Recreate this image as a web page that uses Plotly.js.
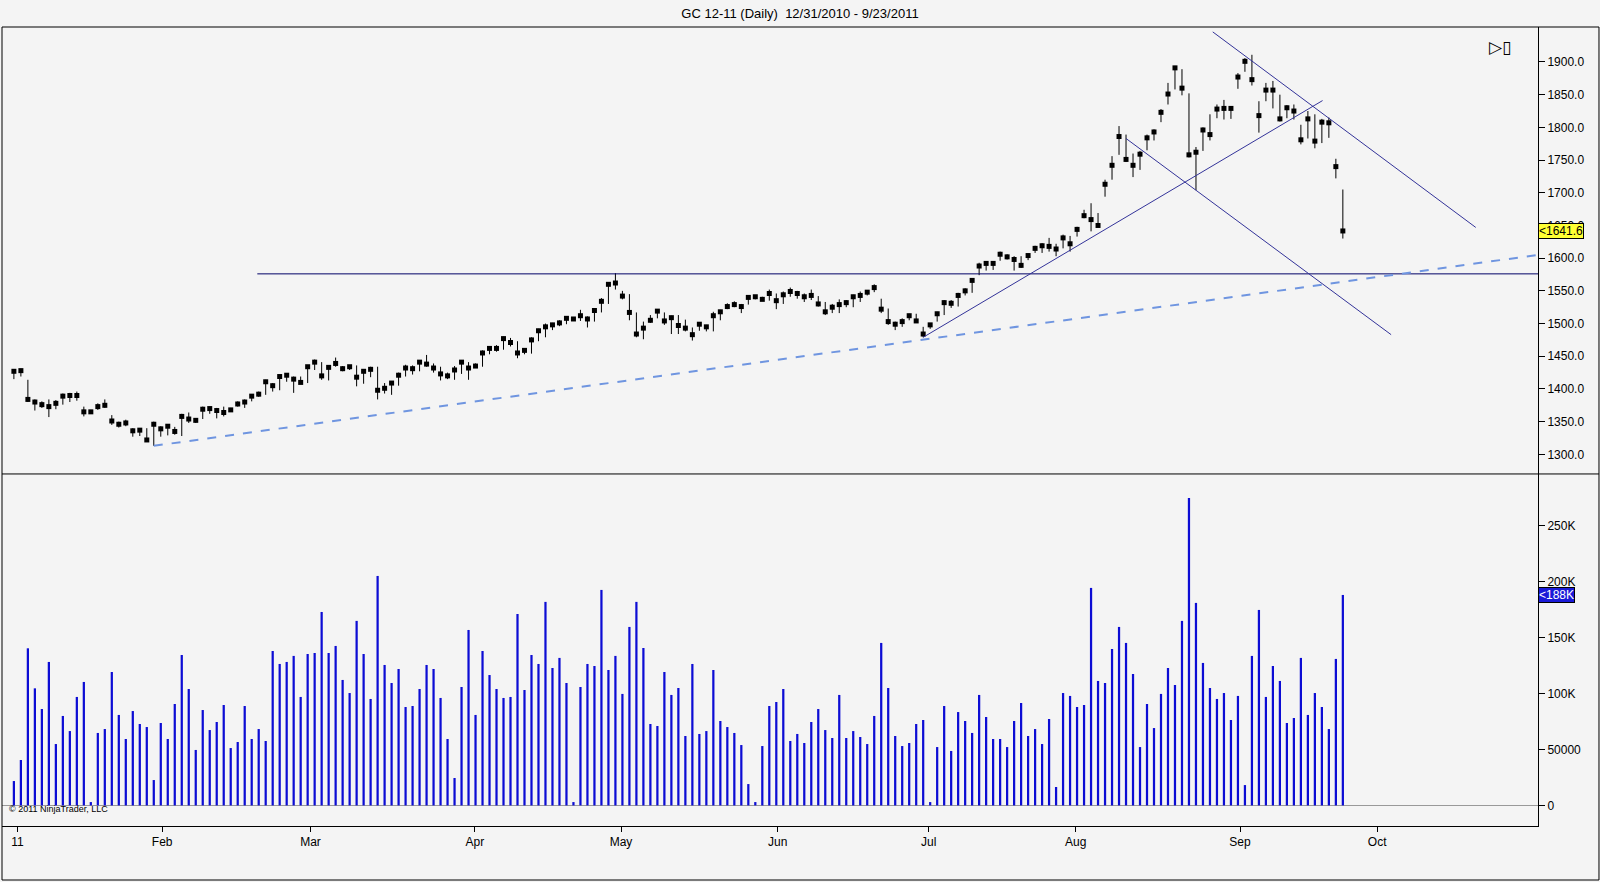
<!DOCTYPE html>
<html>
<head>
<meta charset="utf-8">
<script src="https://cdn.plot.ly/plotly-3.0.1.min.js"></script>
<style>
  html, body { margin: 0; padding: 0; background: #f4f4f4; }
  #chart { width: 1600px; height: 882px; }
</style>
</head>
<body>
<div id="chart"></div>
<script>
// GC 12-11 daily bars, 12/31/2010 - 9/23/2011
const closes = [1427,1428,1384,1380,1376,1373,1378,1389,1390,1390,1365,1365,1373,1375,1351,1346,1348,1336,1337,1322,
  1346,1339,1343,1335,1358,1354,1352,1369,1370,1367,1364,1368,1377,1380,1389,1392,1411,1405,1419,1421,
  1415,1410,1434,1441,1420,1433,1439,1431,1434,1418,1427,1430,1398,1401,1409,1421,1432,1431,1441,1438,
  1432,1423,1420,1429,1441,1432,1435,1455,1462,1462,1477,1471,1455,1459,1475,1489,1495,1498,1501,1508,
  1507,1512,1507,1520,1534,1560,1562,1542,1517,1484,1493,1505,1519,1504,1509,1497,1493,1483,1499,1495,
  1512,1518,1526,1529,1526,1540,1541,1537,1546,1535,1544,1549,1546,1541,1543,1530,1518,1525,1529,1532,
  1541,1543,1548,1555,1522,1503,1499,1503,1512,1504,1484,1498,1515,1532,1531,1543,1550,1566,1588,1592,
  1592,1606,1602,1598,1589,1604,1615,1619,1618,1614,1631,1622,1644,1665,1659,1650,1713,1742,1786,1751,
  1742,1759,1784,1793,1823,1851,1891,1860,1758,1762,1796,1789,1828,1829,1829,1877,1901,1873,1818,1857,
  1857,1813,1830,1825,1781,1813,1779,1808,1807,1740,1641.6];
const highs = [1429,1431,1414,1384,1381,1384,1383,1393,1394,1396,1373,1368,1378,1384,1360,1350,1353,1340,1340,1340,
  1350,1343,1346,1342,1362,1364,1355,1373,1373,1371,1373,1371,1381,1384,1392,1396,1414,1409,1422,1423,
  1419,1419,1436,1445,1441,1436,1448,1435,1436,1436,1429,1434,1434,1409,1411,1425,1437,1436,1444,1452,
  1439,1434,1425,1435,1444,1441,1439,1459,1465,1467,1480,1478,1473,1462,1479,1492,1500,1501,1505,1511,
  1510,1521,1511,1522,1539,1563,1577,1550,1545,1517,1503,1513,1522,1517,1512,1513,1506,1494,1501,1498,
  1518,1521,1531,1534,1530,1543,1543,1541,1552,1546,1549,1555,1550,1546,1552,1542,1533,1530,1537,1536,
  1544,1549,1551,1560,1538,1523,1503,1508,1515,1515,1495,1500,1518,1536,1536,1547,1554,1569,1593,1594,
  1594,1610,1606,1603,1603,1607,1619,1623,1631,1622,1636,1634,1648,1674,1684,1669,1720,1756,1802,1789,
  1760,1764,1789,1797,1828,1868,1894,1889,1852,1770,1800,1820,1835,1842,1832,1883,1906,1911,1840,1868,
  1871,1850,1834,1835,1804,1825,1820,1813,1815,1752,1705];
const lows = [1415,1419,1380,1367,1371,1357,1369,1376,1380,1382,1358,1362,1368,1371,1345,1341,1343,1327,1328,1320,
  1313,1327,1329,1330,1328,1348,1348,1354,1362,1355,1358,1365,1373,1371,1381,1388,1391,1396,1398,1411,
  1394,1410,1409,1429,1414,1413,1434,1427,1429,1404,1408,1418,1384,1393,1391,1405,1419,1422,1427,1434,
  1425,1413,1415,1414,1423,1414,1432,1434,1453,1457,1460,1465,1447,1453,1454,1473,1479,1490,1496,1499,
  1504,1504,1494,1503,1517,1530,1552,1537,1505,1479,1476,1501,1508,1498,1484,1484,1488,1474,1489,1488,
  1488,1505,1522,1525,1516,1529,1537,1535,1535,1522,1530,1541,1538,1533,1536,1526,1513,1516,1516,1525,
  1525,1533,1543,1548,1516,1498,1490,1495,1505,1501,1479,1492,1503,1513,1524,1526,1543,1547,1574,1581,
  1582,1596,1598,1581,1585,1597,1608,1608,1610,1603,1615,1610,1633,1661,1641,1648,1694,1720,1758,1747,
  1724,1735,1765,1780,1808,1835,1858,1849,1754,1704,1764,1780,1814,1812,1813,1859,1885,1864,1792,1840,
  1829,1809,1814,1812,1774,1783,1768,1776,1784,1722,1630];
const volumes = [21.8,40.6,140.5,104.7,86.2,128.3,54.9,80,66.5,97,110.4,3,64.8,68.3,119.3,80.9,59.4,84.4,72.8,70.1,
  22.7,73.7,59.4,90.7,134.5,104.1,49.6,85.3,67.4,74.6,89.8,51.3,56.7,88.9,59.4,68.3,57.6,138.1,126.5,128.3,
  133.7,97,135.4,136.3,173,136.3,142.6,112.2,100.5,165,135.4,95.2,205.2,125.6,109.5,122,88,88.9,104.1,125.6,
  122,96.1,59.4,24.5,105.9,156.9,80.9,138.1,116.6,104.1,96.1,97,171.2,103.2,134.5,126.5,182,122.9,131.9,109.5,
  3,105.9,126.5,124.7,192.7,121.1,133.7,99.7,159.6,182,140.8,72.8,71,119.3,98.8,105,62.1,126.5,63.9,66.5,
  121.1,75.5,70.1,64.8,54,19.1,3,53.1,88.9,92.5,104.1,57.6,63.9,55.8,74.6,86.2,67.4,60.3,98.8,60.3,
  66.5,61.2,54.9,80,145.3,105,62.1,53.1,55.8,72.8,76.4,3,52.2,88.9,48.7,83.5,75.5,64.8,98.8,79.1,
  59.4,59.4,52.2,75.5,91.6,62.1,68.3,54.9,77.3,16.5,100.5,97.9,88,89.8,194.5,111.3,109.5,139.9,159.6,145.3,
  117.5,52.2,90.7,69.2,99.7,122.9,107.7,165,275,181.1,127.4,105,95.2,100.5,76.4,97.9,18.2,133.7,174.8,97,
  124.7,111.3,73.7,78.2,131.9,80.9,100.5,88,68.3,131,188.2].map(v => v * 1000);

const monthTicks = [1.5, 22.2, 43.4, 66.9, 87.8, 110.2, 131.8, 152.8, 176.3, 195.9];
const monthLabels = ['11', 'Feb', 'Mar', 'Apr', 'May', 'Jun', 'Jul', 'Aug', 'Sep', 'Oct'];
const priceTicks = [1300, 1350, 1400, 1450, 1500, 1550, 1600, 1650, 1700, 1750, 1800, 1850, 1900];
const volTicks = [0, 50000, 100000, 150000, 200000, 250000];
const volLabels = ['0', '50000', '100K', '150K', '200K', '250K'];

const bars = closes.map((c, i) => i + 1);
const lastPrice = closes[closes.length - 1];
const lastVol = volumes[volumes.length - 1];

const font = 'Liberation Sans, Arial, sans-serif';

const data = [
  {
    type: 'candlestick', x: bars, open: closes, high: highs, low: lows, close: closes,
    xaxis: 'x2', yaxis: 'y2', whiskerwidth: 0,
    increasing: { line: { color: '#000', width: 1 }, fillcolor: '#000' },
    decreasing: { line: { color: '#000', width: 1 }, fillcolor: '#000' },
    hoverinfo: 'skip', showlegend: false
  },
  {
    type: 'scatter', mode: 'markers', x: bars, y: closes, xaxis: 'x2', yaxis: 'y2',
    marker: { symbol: 'square', size: 5, color: '#000' },
    hoverinfo: 'skip', showlegend: false
  },
  {
    type: 'bar', x: bars, y: volumes, width: 0.32,
    marker: { color: '#0c0cd4', line: { width: 0 } },
    hoverinfo: 'skip', showlegend: false
  }
];

const drawLine = (x0, y0, x1, y1, extra) => Object.assign({
  type: 'line', xref: 'x2', yref: 'y2', x0: x0, y0: y0, x1: x1, y1: y1,
  line: { color: '#333399', width: 1 }
}, extra || {});

const layout = {
  width: 1600, height: 882,
  paper_bgcolor: '#f4f4f4', plot_bgcolor: '#f4f4f4',
  margin: { l: 2, r: 62, t: 27, b: 56 },
  font: { family: font, size: 12, color: '#000' },
  title: { text: 'GC 12-11 (Daily)  12/31/2010 - 9/23/2011', x: 0.5, y: 0.985, yanchor: 'middle',
           font: { family: font, size: 13, color: '#000' } },
  xaxis: {
    range: [-0.7, 218.9], domain: [0, 1], anchor: 'y',
    tickvals: monthTicks, ticktext: monthLabels, ticks: 'outside', ticklen: 5, tickcolor: '#000',
    showgrid: false, zeroline: false, showline: true, linecolor: '#000', mirror: false,
    tickfont: { family: font, size: 12 }
  },
  xaxis2: {
    range: [-0.7, 218.9], anchor: 'y2', matches: 'x', showticklabels: false,
    showgrid: false, zeroline: false, rangeslider: { visible: false }
  },
  yaxis: {
    domain: [0, 0.4406], range: [-18400, 296400], side: 'right',
    tickvals: volTicks, ticktext: volLabels, ticks: 'outside', ticklen: 6, tickcolor: '#000',
    showgrid: false, zeroline: true, zerolinecolor: '#999', zerolinewidth: 1,
    showline: true, linecolor: '#000', tickfont: { family: font, size: 12 }
  },
  yaxis2: {
    domain: [0.4406, 1], range: [1270, 1953.5], side: 'right', anchor: 'x2',
    tickvals: priceTicks, tickformat: '.1f', ticks: 'outside', ticklen: 6, tickcolor: '#000',
    showgrid: false, zeroline: false, showline: true, linecolor: '#000',
    tickfont: { family: font, size: 12 }
  },
  shapes: [
    // outer frame and panel separator
    { type: 'rect', xref: 'paper', yref: 'paper', x0: 0, x1: 1.0397, y0: -0.0676, y1: 1, line: { color: '#000', width: 1 } },
    { type: 'line', xref: 'paper', yref: 'paper', x0: 0, x1: 1.0397, y0: 0.4406, y1: 0.4406, line: { color: '#000', width: 1 } },
    // drawn trend lines
    drawLine(35.8, 1576, 218.9, 1576, { line: { color: '#000066', width: 1 } }),
    drawLine(21, 1313, 218.9, 1605, { line: { color: '#6f95e0', width: 2, dash: 'dash' } }),
    drawLine(131, 1479, 188.1, 1841),
    drawLine(172.4, 1946, 210, 1647),
    drawLine(160, 1783, 197.9, 1483)
  ],
  annotations: [
    { xref: 'paper', yref: 'y2', x: 1.0, y: lastPrice, xanchor: 'left', text: '&lt;' + lastPrice.toFixed(1),
      showarrow: false, bgcolor: '#ffff33', bordercolor: '#000', borderwidth: 1, borderpad: 0,
      font: { family: font, size: 12, color: '#000' } },
    { xref: 'paper', yref: 'y', x: 1.0, y: lastVol, xanchor: 'left', text: '&lt;' + Math.round(lastVol / 1000) + 'K',
      showarrow: false, bgcolor: '#1a1ad8', bordercolor: '#000', borderwidth: 1, borderpad: 0,
      font: { family: font, size: 12, color: '#fff' } },
    { xref: 'paper', yref: 'paper', x: 0.003, y: 0.012, xanchor: 'left', yanchor: 'bottom',
      text: '© 2011 NinjaTrader, LLC', showarrow: false, font: { family: font, size: 9, color: '#000' } },
    { xref: 'paper', yref: 'paper', x: 0.975, y: 0.99, xanchor: 'center', yanchor: 'top',
      text: '▷▯', showarrow: false, font: { family: 'DejaVu Sans', size: 17, color: '#000' } }
  ]
};

Plotly.newPlot('chart', data, layout, { displayModeBar: false, staticPlot: true });
</script>
</body>
</html>
